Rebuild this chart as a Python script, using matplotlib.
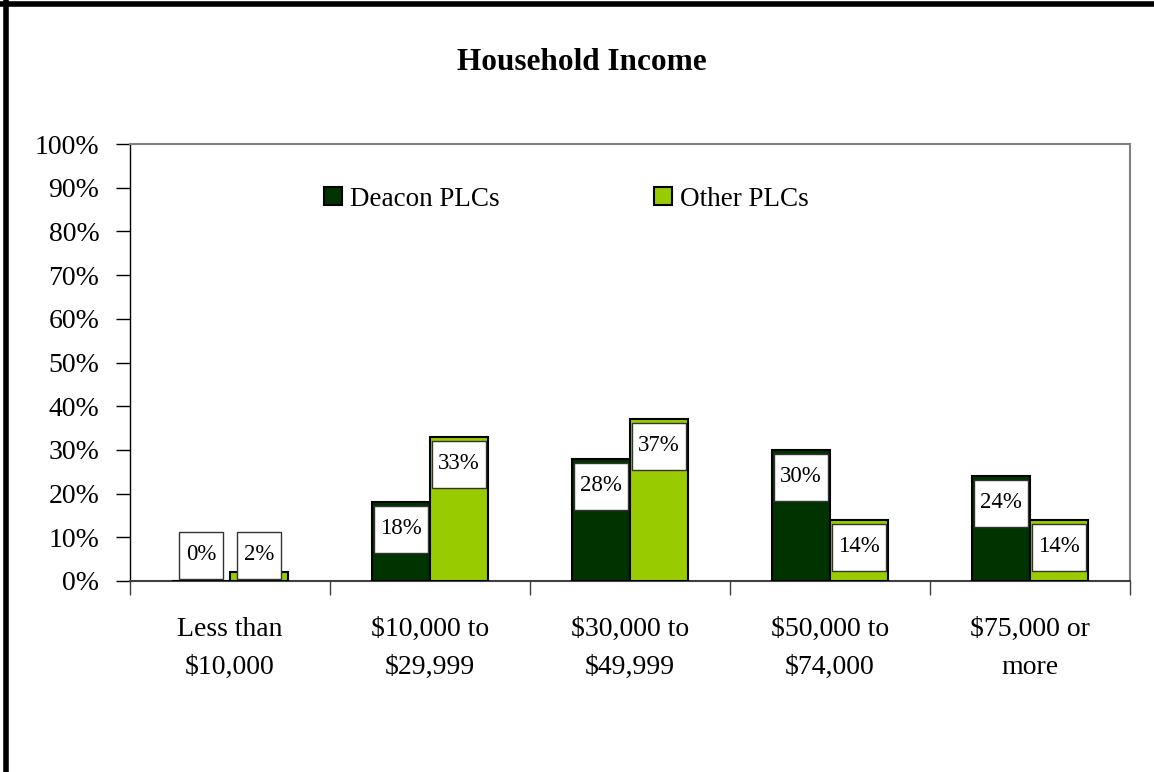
import matplotlib
matplotlib.use("Agg")
import matplotlib.pyplot as plt
from matplotlib.patches import Rectangle
from matplotlib.lines import Line2D
import numpy as np

categories = ["Less than\n$10,000", "$10,000 to\n$29,999", "$30,000 to\n$49,999",
              "$50,000 to\n$74,000", "$75,000 or\nmore"]
deacon = [0, 18, 28, 30, 24]
other = [2, 33, 37, 14, 14]
series_names = ["Deacon PLCs", "Other PLCs"]
series_colors = ["#003300", "#99CC00"]
yticks = list(range(0, 101, 10))
title = "Household Income"

plt.rcParams['font.family'] = ['Liberation Serif', 'DejaVu Serif']

W, H = 1154, 772
fig = plt.figure(figsize=(W / 100, H / 100), dpi=100)
ax = fig.add_axes([130 / W, 1 - 581 / H, 1000 / W, 437 / H])

x = np.arange(len(categories))
bw = 0.29
ax.bar(x - bw / 2, deacon, bw, color=series_colors[0], edgecolor="black",
       linewidth=1.5, label=series_names[0], zorder=3)
ax.bar(x + bw / 2, other, bw, color=series_colors[1], edgecolor="black",
       linewidth=1.5, label=series_names[1], zorder=3)

ax.set_xlim(-0.5, len(categories) - 0.5)
ax.set_ylim(0, 100)
ax.set_yticks(yticks)
ax.set_yticklabels([f"{v}%" for v in yticks], fontsize=20)
ax.tick_params(axis='y', length=10, width=1, direction='out', pad=12, color='black')

ax.set_xticks(np.arange(-0.5, len(categories), 1.0))
ax.set_xticklabels([])
ax.tick_params(axis='x', which='major', length=10, width=1, direction='out', color='#404040')
ax.set_xticks(x, minor=True)
ax.set_xticklabels(categories, minor=True, fontsize=20, linespacing=1.68)
ax.tick_params(axis='x', which='minor', length=0, pad=26)

for s in ['top', 'right']:
    ax.spines[s].set_color('#808080')
    ax.spines[s].set_linewidth(1.5)
ax.spines['left'].set_color('black')
ax.spines['left'].set_linewidth(1)
ax.spines['bottom'].set_color('#404040')
ax.spines['bottom'].set_linewidth(1.5)

# data label boxes
fig.canvas.draw()
r = fig.canvas.get_renderer()
p0 = ax.transData.transform((0, 0))
p1 = ax.transData.transform((1, 1))
pxx = p1[0] - p0[0]
pxy = p1[1] - p0[1]
box_h = 47 / pxy
for xs, vals in [(x - bw / 2, deacon), (x + bw / 2, other)]:
    for xc, v in zip(xs, vals):
        t = ax.text(xc, 0, f"{v}%", ha='center', va='center', fontsize=16.5, zorder=6)
        w = t.get_window_extent(r).width
        top = max(v - 4 / pxy, 2 / pxy + box_h)
        bwid = (w + 13) / pxx
        ax.add_patch(Rectangle((xc - bwid / 2, top - box_h), bwid, box_h,
                               facecolor='white', edgecolor='#333333', linewidth=1, zorder=5))
        t.set_y(top - box_h / 2 + 1 / pxy)

ax.legend(loc='center', bbox_to_anchor=(0.4365, 0.874), ncol=2, frameon=False,
          fontsize=19.5, handlelength=0.65, handleheight=0.65, handletextpad=0.3,
          columnspacing=5.7, borderpad=0)

fig.text(582 / W, 1 - 70 / H, title, ha='center', va='baseline', fontsize=22.5, fontweight='bold')

# outer border (top and left)
fig.add_artist(Line2D([0, 1], [1 - 3.5 / H, 1 - 3.5 / H], color='black', linewidth=4,
                      transform=fig.transFigure))
fig.add_artist(Line2D([5.5 / W, 5.5 / W], [0, 1 - 1 / H], color='black', linewidth=4,
                      transform=fig.transFigure))

fig.savefig("out.png", dpi=100)
